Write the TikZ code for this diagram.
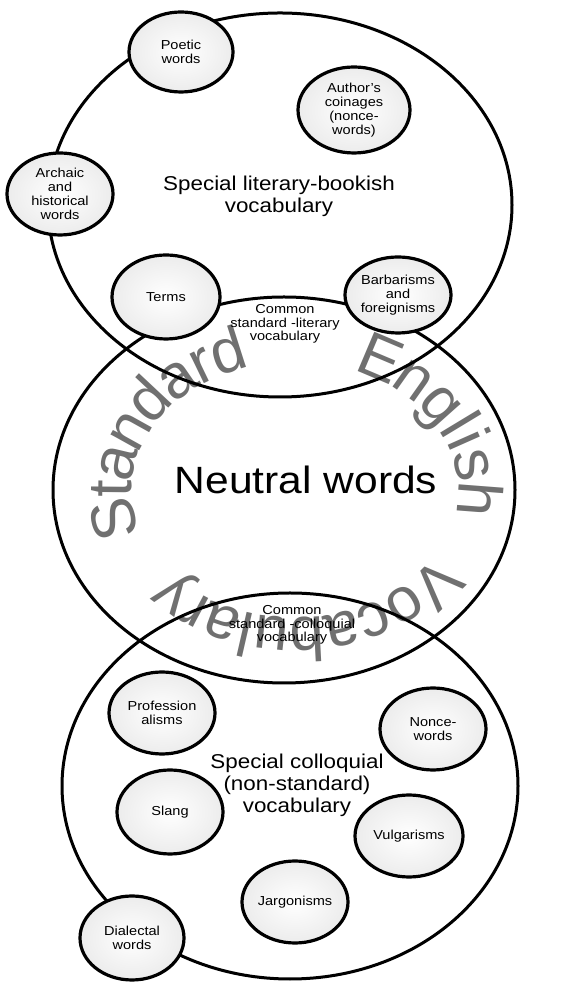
\documentclass[tikz,border=0pt]{standalone}
\usepackage{fontspec}
\setmainfont{Liberation Sans}[FakeStretch=1.12]
\newfontfamily\curvefam{Liberation Sans}
\usetikzlibrary{shapes.geometric,decorations.text,calc}
\definecolor{curvegray}{RGB}{112,112,112}
\newcommand\curvestyle{\curvefam\fontsize{62}{62}\selectfont\color{curvegray}}
\tikzset{
  bigell/.style={draw, ellipse, line width=3pt, inner sep=0pt},
  smallell/.style={draw, ellipse, line width=3.2pt, inner sep=0pt, align=center,
    font=\fontsize{13}{14}\selectfont, inner color=white, outer color=gray!15},
  biglabel/.style={align=center, font=\fontsize{20}{22}\selectfont, inner sep=0pt},
  lenslabel/.style={align=center, font=\fontsize{13}{13.5}\selectfont, inner sep=0pt},
  curve/.style={decorate, decoration={text along path, text align=fit to path, raise=-24pt, text={|\curvestyle|#1}}}
}
\begin{document}
\begin{tikzpicture}[x=1pt,y=1pt]
\useasboundingbox (0,0) rectangle (562,982);
\fill[white] (0,0) rectangle (562,982);
\coordinate (ctr) at (295,492);
% curved text (baseline 24pt inside the path)
\path[curve=Standard] ($(ctr)+(199:187 and 152)$) arc[start angle=199, end angle=106, x radius=187, y radius=152];
\path[curve=English] ($(ctr)+(69:187 and 152)$) arc[start angle=69, end angle=-10, x radius=187, y radius=152];
\path[curve=Vocabulary] ($(ctr)+(-32:187 and 152)$) arc[start angle=-32, end angle=-138, x radius=187, y radius=152];
% big ellipses
\node[bigell, minimum width=464, minimum height=384] (lit) at (280,777) {};
\node[bigell, minimum width=462, minimum height=386] (neu) at (284,492) {};
\node[bigell, minimum width=456, minimum height=386] (col) at (290,196) {};
% small ellipses, top
\node[smallell, minimum width=104, minimum height=80] (poetic) at (181,930) {Poetic\\words};
\node[smallell, minimum width=112, minimum height=86] (author) at (354,872) {Author's\\coinages\\(nonce-\\words)};
\node[smallell, minimum width=106, minimum height=82] (archaic) at (60,788) {Archaic\\and\\historical\\words};
\node[smallell, minimum width=108, minimum height=84] (terms) at (166,685) {Terms};
\node[smallell, minimum width=106, minimum height=76] (barb) at (398,687) {Barbarisms\\and\\foreignisms};
% small ellipses, bottom
\node[smallell, minimum width=106, minimum height=82] (prof) at (162,269) {Profession\\alisms};
\node[smallell, minimum width=106, minimum height=82] (nonce) at (433,253) {Nonce-\\words};
\node[smallell, minimum width=106, minimum height=84] (slang) at (170,170) {Slang};
\node[smallell, minimum width=108, minimum height=82] (vulg) at (409,146) {Vulgarisms};
\node[smallell, minimum width=106, minimum height=82] (jarg) at (295,80) {Jargonisms};
\node[smallell, minimum width=104, minimum height=84] (dial) at (132,44) {Dialectal\\words};
% labels
\node[biglabel] (litlabel) at (279,786) {Special literary-bookish\\vocabulary};
\node[lenslabel] (lens1) at (285,658) {Common\\standard -literary\\vocabulary};
\node[inner sep=0pt, font=\fontsize{38}{40}\selectfont] (neutral) at (306,502) {Neutral words};
\node[lenslabel] (lens2) at (292,357) {Common\\standard -colloquial\\vocabulary};
\node[biglabel] (collabel) at (297,197) {Special colloquial\\(non-standard)\\vocabulary};
\end{tikzpicture}
\end{document}
